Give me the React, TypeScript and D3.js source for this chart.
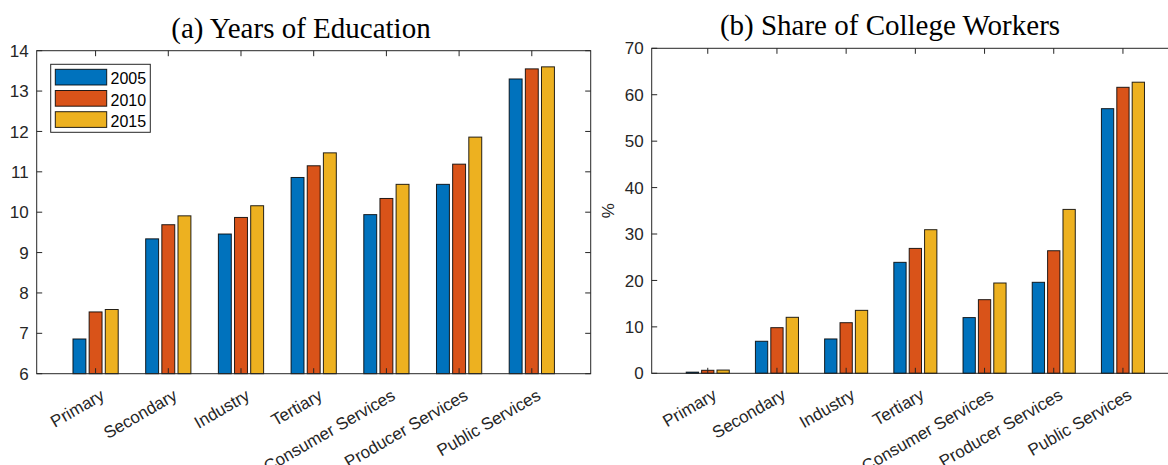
import * as d3 from 'd3'

const categories = ['Primary', 'Secondary', 'Industry', 'Tertiary', 'Consumer Services', 'Producer Services', 'Public Services']
const years = ['2005', '2010', '2015']
const colors = ['#0072BD', '#D95319', '#EDB120']

// (a) years of education
const edu2005 = [6.86, 9.34, 9.46, 10.86, 9.94, 10.69, 13.3]
const edu2010 = [7.53, 9.69, 9.87, 11.15, 10.34, 11.19, 13.55]
const edu2015 = [7.59, 9.91, 10.16, 11.47, 10.69, 11.86, 13.6]
const eduTicks = [6, 7, 8, 9, 10, 11, 12, 13, 14]

// (b) share of college workers, %
const col2005 = [0.25, 6.9, 7.4, 23.9, 12.0, 19.6, 57.0]
const col2010 = [0.65, 9.83, 10.9, 26.9, 15.86, 26.4, 61.6]
const col2015 = [0.7, 12.06, 13.56, 30.93, 19.45, 35.3, 62.7]
const colTicks = [0, 10, 20, 30, 40, 50, 60, 70]

const AX = '#262626'
const sans = '"Liberation Sans", Arial, Helvetica, sans-serif'
const serif = '"Liberation Serif", "Times New Roman", serif'

interface PanelProps {
  title: string
  titleX: number
  series: number[][]
  ticks: number[]
  left: number
  right: number
  top: number
  bottom: number
  ylabel?: string
  legend?: boolean
}

function Panel({ title, titleX, series, ticks, left, right, top, bottom, ylabel, legend }: PanelProps) {
  const x = d3.scaleLinear().domain([0.19, 7.81]).range([left, right])
  const y = d3.scaleLinear().domain([ticks[0], ticks[ticks.length - 1]]).range([bottom, top])
  const groupW = 0.6667
  const barW = (groupW / 3) * 0.8
  const tl = 5.5

  return (
    <g>
      <text x={titleX} y={top - 13} textAnchor="middle" fontFamily={serif} fontSize={29} fill="#000">
        {title}
      </text>

      {series.map((vals, j) =>
        vals.map((v, i) => {
          const c = i + 1 + (j - 1) * (groupW / 3)
          return (
            <rect
              key={`${j}-${i}`}
              x={x(c - barW / 2)}
              y={y(v)}
              width={x(c + barW / 2) - x(c - barW / 2)}
              height={y(ticks[0]) - y(v)}
              fill={colors[j]}
              stroke="#000"
              strokeOpacity={0.85}
              strokeWidth={1}
            />
          )
        })
      )}

      {/* box */}
      <rect x={left} y={top} width={right - left} height={bottom - top} fill="none" stroke={AX} strokeWidth={1} />

      {/* y ticks */}
      {ticks.map(t => (
        <g key={t}>
          <line x1={left} x2={left + tl} y1={y(t)} y2={y(t)} stroke={AX} />
          <line x1={right} x2={right - tl} y1={y(t)} y2={y(t)} stroke={AX} />
          <text x={left - 8} y={y(t)} dy="0.36em" textAnchor="end" fontFamily={sans} fontSize={17} fill={AX}>
            {t}
          </text>
        </g>
      ))}

      {/* x ticks */}
      {categories.map((cat, i) => (
        <g key={cat}>
          <line x1={x(i + 1)} x2={x(i + 1)} y1={bottom} y2={bottom - tl} stroke={AX} />
          <line x1={x(i + 1)} x2={x(i + 1)} y1={top} y2={top + tl} stroke={AX} />
          <text
            transform={`translate(${x(i + 1) + 10},${bottom + 25}) rotate(-30)`}
            textAnchor="end"
            fontFamily={sans}
            fontSize={17}
            fill={AX}
          >
            {cat}
          </text>
        </g>
      ))}

      {ylabel && (
        <text
          transform={`translate(${left - 38},${(top + bottom) / 2}) rotate(-90)`}
          textAnchor="middle"
          fontFamily={sans}
          fontSize={17}
          fill={AX}
        >
          {ylabel}
        </text>
      )}

      {legend && (
        <g>
          <rect x={50.7} y={64.3} width={99.6} height={68} fill="#fff" stroke={AX} strokeWidth={1} />
          {years.map((yr, j) => (
            <g key={yr}>
              <rect x={55.3} y={69.3 + j * 21.2} width={51.4} height={15.7} fill={colors[j]} stroke="#000" strokeOpacity={0.85} />
              <text x={110.5} y={84.3 + j * 21.2} fontFamily={sans} fontSize={16} fill="#000">
                {yr}
              </text>
            </g>
          ))}
        </g>
      )}
    </g>
  )
}

export default function App() {
  return (
    <svg width={1168} height={465} style={{ position: 'absolute', left: 0, top: 0, background: '#fff' }}>
      <rect width={1168} height={465} fill="#fff" />
      <Panel
        title="(a) Years of Education"
        titleX={301}
        series={[edu2005, edu2010, edu2015]}
        ticks={eduTicks}
        left={36.7}
        right={590.7}
        top={50.7}
        bottom={373.7}
        legend
      />
      <Panel
        title="(b) Share of College Workers"
        titleX={890}
        series={[col2005, col2010, col2015]}
        ticks={colTicks}
        left={651.7}
        right={1179}
        top={48.3}
        bottom={373.3}
        ylabel="%"
      />
    </svg>
  )
}
